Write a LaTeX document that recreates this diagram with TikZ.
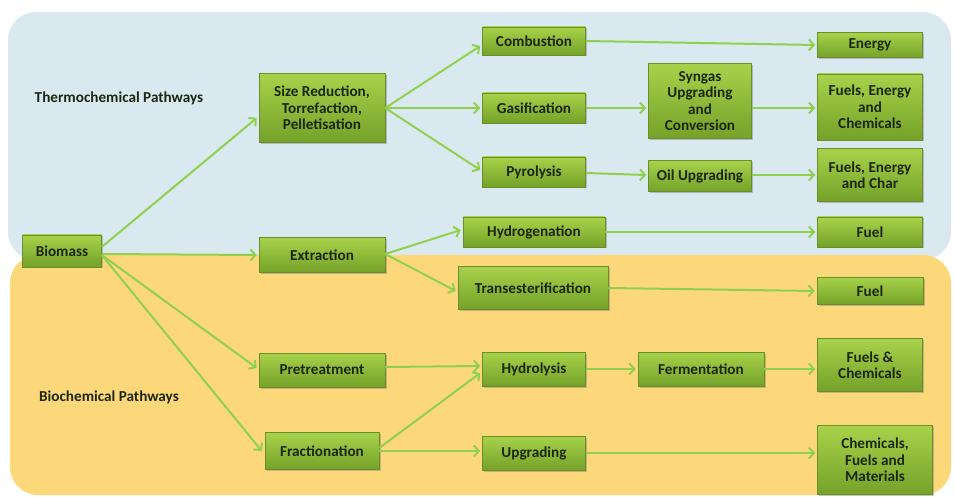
\documentclass[tikz,border=0pt]{standalone}
\usepackage{fontspec}
\setmainfont{Carlito}
\usetikzlibrary{arrows.meta,shadows}
\definecolor{bgblue}{HTML}{DAE9EF}
\definecolor{bgorange}{HTML}{FCD87A}
\definecolor{boxtop}{HTML}{A8D24A}
\definecolor{boxbot}{HTML}{74A229}
\definecolor{boxline}{HTML}{6A8F2A}
\definecolor{arrowgreen}{HTML}{8FD14F}
\definecolor{txt}{HTML}{1C2612}
\begin{document}
\begin{tikzpicture}[x=1pt,y=-1pt,
  box/.style={rectangle, draw=boxline, line width=0.5pt, top color=boxtop, bottom color=boxbot,
    drop shadow={shadow xshift=1.5pt, shadow yshift=-1.5pt, opacity=0.45},
    text=txt, font=\fontsize{15.2}{16.5}\selectfont\bfseries, align=center, inner sep=1pt},
  flow/.style={draw=arrowgreen, line width=2pt, -{Straight Barb[length=5pt,width=11pt,line width=2pt]}},
  lab/.style={text=txt, font=\fontsize{15.2}{16.5}\selectfont\bfseries}]
\useasboundingbox (0,0) rectangle (954,497);
\fill[white] (0,0) rectangle (954,497);
\fill[bgblue, rounded corners=28pt] (8,12) rectangle (951,260);
\fill[bgorange, rounded corners=28pt] (10,255) rectangle (951,495);

\node[lab] (tl) at (119,98) {Thermochemical Pathways};
\node[lab] (bl) at (109,397) {Biochemical Pathways};

\node[box, minimum width=79pt, minimum height=32pt] (bio) at (62,251) {Biomass};
\node[box, minimum width=126pt, minimum height=69pt] (size) at (322,108) {Size Reduction,\\Torrefaction,\\Pelletisation};
\node[box, minimum width=126pt, minimum height=35pt] (ext) at (322,255) {Extraction};
\node[box, minimum width=126pt, minimum height=34pt] (pre) at (322,370) {Pretreatment};
\node[box, minimum width=114pt, minimum height=37pt] (frac) at (322,451) {Fractionation};

\node[box, minimum width=103pt, minimum height=28pt] (comb) at (534,41) {Combustion};
\node[box, minimum width=103pt, minimum height=30pt] (gas) at (534,108) {Gasification};
\node[box, minimum width=103pt, minimum height=30pt] (pyr) at (534,172) {Pyrolysis};
\node[box, minimum width=142pt, minimum height=30pt] (hyd) at (534,232) {Hydrogenation};
\node[box, minimum width=150pt, minimum height=43pt] (trans) at (533,288) {Transesterification};
\node[box, minimum width=103pt, minimum height=34pt] (hydro) at (534,369) {Hydrolysis};
\node[box, minimum width=103pt, minimum height=34pt] (upg) at (534,453) {Upgrading};

\node[box, minimum width=103pt, minimum height=75pt] (syn) at (700,101) {Syngas\\Upgrading\\and\\Conversion};
\node[box, minimum width=103pt, minimum height=31pt] (oil) at (700,176) {Oil Upgrading};
\node[box, minimum width=126pt, minimum height=34pt] (ferm) at (701,369) {Fermentation};

\node[box, minimum width=105pt, minimum height=25pt] (energy) at (870,45) {Energy};
\node[box, minimum width=105pt, minimum height=66pt] (fec) at (870,107) {Fuels, Energy\\and\\Chemicals};
\node[box, minimum width=105pt, minimum height=53pt] (fech) at (870,175) {Fuels, Energy\\and Char};
\node[box, minimum width=105pt, minimum height=30pt] (fuela) at (870,232) {Fuel};
\node[box, minimum width=106pt, minimum height=27pt] (fuelb) at (870,291) {Fuel};
\node[box, minimum width=105pt, minimum height=53pt] (fc) at (870,365) {Fuels \&\\Chemicals};
\node[box, minimum width=115pt, minimum height=69pt] (cfm) at (875,460) {Chemicals,\\Fuels and\\Materials};

% canvas yshift: positive = up on the page
\draw[flow] ([yshift=4pt]bio.east) -- ([yshift=-10pt,xshift=-2pt]size.west);
\draw[flow] ([yshift=-3pt]bio.east) -- ([xshift=-2pt]ext.west);
\draw[flow] ([yshift=-4pt]bio.east) -- ([xshift=-2pt,yshift=2pt]pre.west);
\draw[flow] ([yshift=-4pt]bio.east) -- ([xshift=-3pt]frac.west);

\draw[flow] (size.east) -- ([xshift=-2pt,yshift=-5pt]comb.west);
\draw[flow] (size.east) -- ([xshift=-2pt]gas.west);
\draw[flow] (size.east) -- ([xshift=-2pt,yshift=2pt]pyr.west);

\draw[flow] ([yshift=1pt]ext.east) -- ([xshift=-2pt,yshift=2pt]hyd.west);
\draw[flow] ([yshift=1pt]ext.east) -- ([xshift=-2pt,yshift=-3pt]trans.west);

\draw[flow] ([yshift=3pt]pre.east) -- ([xshift=-2pt,yshift=3pt]hydro.west);
\draw[flow] ([yshift=3pt]frac.east) -- ([xshift=-2pt,yshift=-4pt]hydro.west);
\draw[flow] (frac.east) -- ([xshift=-2pt]upg.west |- frac.east);

\draw[flow] (comb.east) -- ([xshift=-2pt]energy.west);
\draw[flow] (gas.east) -- ([xshift=-2pt]syn.west |- gas.east);
\draw[flow] (syn.east |- gas.east) -- ([xshift=-2pt]fec.west |- gas.east);
\draw[flow] ([yshift=-1pt]pyr.east) -- ([xshift=-2pt,yshift=1pt]oil.west);
\draw[flow] ([yshift=1pt]oil.east) -- ([xshift=-2pt]fech.west);
\draw[flow] (hyd.east) -- ([xshift=-2pt]fuela.west);
\draw[flow] (trans.east) -- ([xshift=-2pt]fuelb.west);
\draw[flow] (hydro.east) -- ([xshift=-2pt]ferm.west);
\draw[flow] (ferm.east) -- ([xshift=-2pt]fc.west |- ferm.east);
\draw[flow] (upg.east) -- ([xshift=-2pt]cfm.west |- upg.east);
\end{tikzpicture}
\end{document}
